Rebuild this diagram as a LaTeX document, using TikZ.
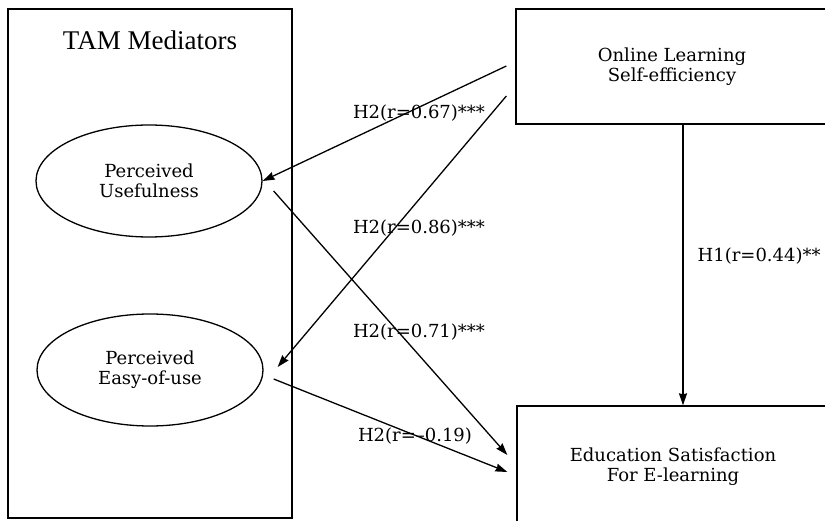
\documentclass[tikz,border=0pt]{standalone}
\usepackage{fontspec}
\setmainfont{DejaVu Serif}
\newfontfamily\titlefont{Liberation Serif}
\usetikzlibrary{shapes.geometric,arrows.meta}

\begin{document}
\begin{tikzpicture}[x=1pt,y=-1pt,line width=1.3pt,
  box/.style={draw,inner sep=0pt,align=center,font=\fontsize{18}{20}\selectfont},
  oval/.style={draw,ellipse,inner sep=0pt,minimum width=226pt,minimum height=112pt,
    align=center,font=\fontsize{18}{20}\selectfont},
  lbl/.style={inner sep=0pt,font=\fontsize{18}{20}\selectfont}]
  \useasboundingbox (0,0) rectangle (825,521);
  % mediators block
  \node[box,minimum width=284pt,minimum height=509pt] (tam) at (150,263.5) {};
  \node[font=\titlefont\fontsize{27}{28}\selectfont] (title) at (150,40) {TAM Mediators};
  \node[oval] (pu) at (149,181) {Perceived\\Usefulness};
  \node[oval] (peou) at (150,370) {Perceived\\Easy-of-use};
  % right side
  \node[box,minimum width=312pt,minimum height=115pt] (ole) at (672,66.5) {Online Learning\\Self-efficiency};
  \node[box,minimum width=312pt,minimum height=122pt] (es) at (673,467) {Education Satisfaction\\For E-learning};
  \path[-{Stealth[length=12pt,width=8pt,inset=1pt]}]
    ([xshift=-9pt,yshift=0.5pt]ole.west) edge (pu.east)
    ([xshift=-9pt,yshift=-29.5pt]ole.west) edge ([xshift=14pt,yshift=3pt]peou.east)
    ([xshift=11pt,yshift=-10pt]pu.east) edge ([xshift=-9pt,yshift=12pt]es.west)
    ([xshift=10pt,yshift=-9pt]peou.east) edge ([xshift=-9pt,yshift=-5pt]es.west)
    ([xshift=11pt]ole.south) edge ([xshift=10pt]es.north);
  % labels
  \node[lbl] (l1) at (419,113) {H2(r=0.67)***};
  \node[lbl] (l2) at (419,228) {H2(r=0.86)***};
  \node[lbl] (l3) at (419,332) {H2(r=0.71)***};
  \node[lbl] (l4) at (415,436) {H2(r=--0.19)};
  \node[lbl,anchor=west] (h1) at (697,256) {H1(r=0.44)**};
\end{tikzpicture}
\end{document}
